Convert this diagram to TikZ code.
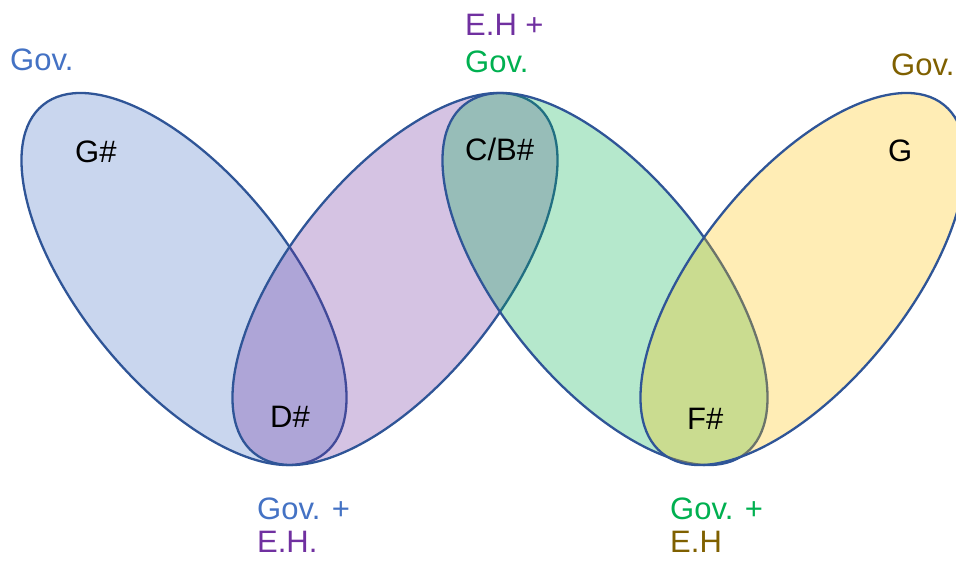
\documentclass[tikz,border=0pt]{standalone}
\usepackage{fontspec}
\setmainfont{Liberation Sans}
\definecolor{cblue}{HTML}{4472C4}
\definecolor{cpurple}{HTML}{7030A0}
\definecolor{cgreen}{HTML}{00B050}
\definecolor{cgold}{HTML}{FFC000}
\definecolor{cbrown}{HTML}{7F6000}
\definecolor{cline}{HTML}{2F5597}
\tikzset{
  venn/.style={draw=cline, line width=2.3pt, fill opacity=0.29},
  lbl/.style={anchor=base west, inner sep=0pt, font=\fontsize{31}{36}\selectfont},
}
\begin{document}
\begin{tikzpicture}[x=1pt,y=-1pt]
\useasboundingbox (0,0) rectangle (956,560);
\coordinate (cb) at (184,279);
\coordinate (cp) at (395,279);
\coordinate (cg) at (605,279);
\coordinate (cy) at (803,279);
\path[venn, fill=cblue, rotate around={-51:(cb)}] (cb) ellipse [x radius=224, y radius=104];
\path[venn, fill=cpurple, rotate around={51:(cp)}] (cp) ellipse [x radius=224, y radius=104];
\path[venn, fill=cgreen, rotate around={-51:(cg)}] (cg) ellipse [x radius=224, y radius=104];
\path[venn, fill=cgold, rotate around={51:(cy)}] (cy) ellipse [x radius=224, y radius=104];
% region labels
\node[lbl] (gs) at (75,162) {G\#};
\node[lbl] (ds) at (270,427) {D\#};
\node[lbl] (cbs) at (465,160) {C/B\#};
\node[lbl] (fs) at (687,429) {F\#};
\node[lbl] (g) at (888,161) {G};
% set labels
\node[lbl, text=cblue] (l1) at (10,70) {Gov.};
\node[lbl, text=cpurple] (l2a) at (465,35) {E.H +};
\node[lbl, text=cgreen] (l2b) at (465,72) {Gov.};
\node[lbl, text=cbrown] (l3) at (891,75) {Gov.};
\node[lbl, text=cblue] (l4a) at (257,519) {Gov. +};
\node[lbl, text=cpurple] (l4b) at (257,552) {E.H.};
\node[lbl, text=cgreen] (l5a) at (670,519) {Gov. +};
\node[lbl, text=cbrown] (l5b) at (670,552) {E.H};
\end{tikzpicture}
\end{document}
